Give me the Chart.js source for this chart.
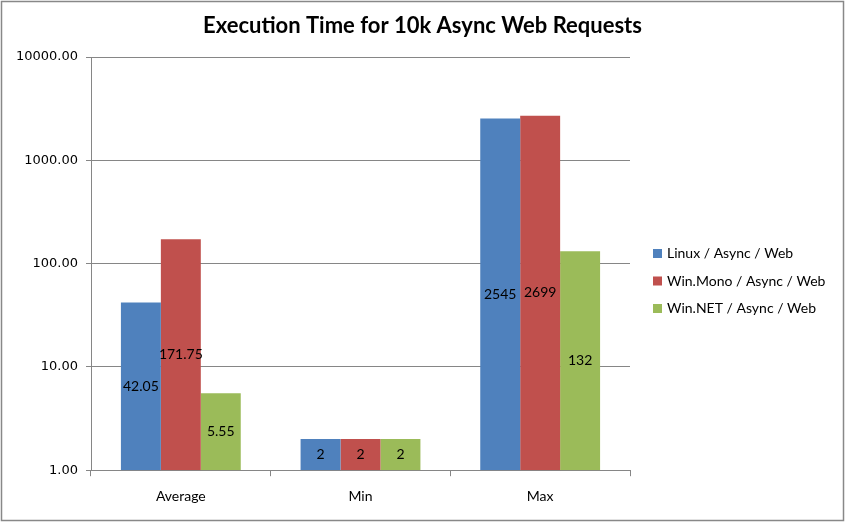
<!DOCTYPE html>
<html>
<head>
<meta charset="utf-8">
<script src="https://cdn.jsdelivr.net/npm/chart.js@4/dist/chart.umd.min.js"></script>
<style>
  html, body { margin: 0; padding: 0; background: #fff; }
  #wrap { width: 845px; height: 522px; position: relative; }
  canvas { display: block; }
</style>
</head>
<body>
<div id="wrap"><canvas id="c" width="845" height="522"></canvas></div>
<script>
const chartTitle = 'Execution Time for 10k Async Web Requests';
const categories = ['Average', 'Min', 'Max'];
const seriesNames = ['Linux / Async / Web', 'Win.Mono / Async / Web', 'Win.NET / Async / Web'];
const linuxValues = [42.05, 2, 2545];
const monoValues = [171.75, 2, 2699];
const netValues = [5.55, 2, 132];
const seriesColors = ['#4F81BD', '#C0504D', '#9BBB59'];
const yTickValues = [1, 10, 100, 1000, 10000];

const GRID = '#868686';

const borderPlugin = {
  id: 'outerBorder',
  beforeDraw(chart) {
    const ctx = chart.ctx;
    ctx.save();
    ctx.fillStyle = '#fff';
    ctx.fillRect(0, 0, chart.width, chart.height);
    ctx.strokeStyle = '#888888';
    ctx.lineWidth = 1.5;
    ctx.strokeRect(1.5, 1.5, 842, 519);
    ctx.restore();
  }
};

// center the title over the whole canvas (not only the space left of the legend)
const titleCenterPlugin = {
  id: 'titleCenter',
  afterLayout(chart) {
    const t = chart.titleBlock;
    if (t) { t.left = 0; t.right = chart.width; t.width = chart.width; }
  }
};

const dataLabelPlugin = {
  id: 'barLabels',
  afterDatasetsDraw(chart) {
    const ctx = chart.ctx;
    ctx.save();
    ctx.font = '14px Lato';
    ctx.fillStyle = '#000';
    ctx.textAlign = 'center';
    ctx.textBaseline = 'middle';
    chart.data.datasets.forEach((ds, di) => {
      const meta = chart.getDatasetMeta(di);
      meta.data.forEach((bar, i) => {
        const y = (bar.y + bar.base) / 2;
        ctx.fillText(String(ds.data[i]), bar.x, y);
      });
    });
    ctx.restore();
  }
};

const legendPlugin = {
  id: 'sideLegend',
  afterDraw(chart) {
    const ctx = chart.ctx;
    ctx.save();
    ctx.font = '14px Lato';
    ctx.textAlign = 'left';
    ctx.textBaseline = 'middle';
    const x0 = chart.chartArea.right + 23;
    const yc = 281;
    const step = 27.5;
    const n = chart.data.datasets.length;
    chart.data.datasets.forEach((ds, i) => {
      const y = yc + (i - (n - 1) / 2) * step;
      ctx.fillStyle = ds.backgroundColor;
      ctx.fillRect(x0, y - 4.5, 9, 9);
      ctx.fillStyle = '#000';
      ctx.fillText(ds.label, x0 + 14, y);
    });
    ctx.restore();
  }
};

new Chart(document.getElementById('c'), {
  type: 'bar',
  data: {
    labels: categories,
    datasets: [
      { label: seriesNames[0], data: linuxValues, backgroundColor: seriesColors[0] },
      { label: seriesNames[1], data: monoValues, backgroundColor: seriesColors[1] },
      { label: seriesNames[2], data: netValues, backgroundColor: seriesColors[2] }
    ]
  },
  options: {
    responsive: false,
    animation: false,
    devicePixelRatio: 1,
    layout: { padding: { left: 0, right: 215, top: 0, bottom: 5 } },
    datasets: { bar: { categoryPercentage: 0.667, barPercentage: 1.0, borderWidth: 0 } },
    plugins: {
      legend: { display: false },
      tooltip: { enabled: false },
      title: {
        display: true,
        text: chartTitle,
        color: '#000',
        font: { family: 'Lato', size: 22, weight: 'bold' },
        padding: { top: 13, bottom: 17.6 }
      }
    },
    scales: {
      x: {
        grid: { offset: true, drawOnChartArea: false, drawTicks: true, tickLength: 6, color: GRID },
        border: { color: GRID, width: 1 },
        ticks: { color: '#000', font: { family: 'Lato', size: 14 }, padding: 12 }
      },
      y: {
        type: 'logarithmic',
        min: 1,
        max: 10000,
        afterBuildTicks(scale) { scale.ticks = yTickValues.map(v => ({ value: v })); },
        afterFit(scale) { scale.width = 91; },
        grid: { color: GRID, tickLength: 5, drawTicks: true },
        border: { color: GRID, width: 1 },
        ticks: {
          color: '#000',
          font: { family: 'DejaVu Sans', size: 13 },
          padding: 8,
          callback: (v) => Number(v).toFixed(2)
        }
      }
    }
  },
  plugins: [borderPlugin, titleCenterPlugin, dataLabelPlugin, legendPlugin]
});
</script>
</body>
</html>
